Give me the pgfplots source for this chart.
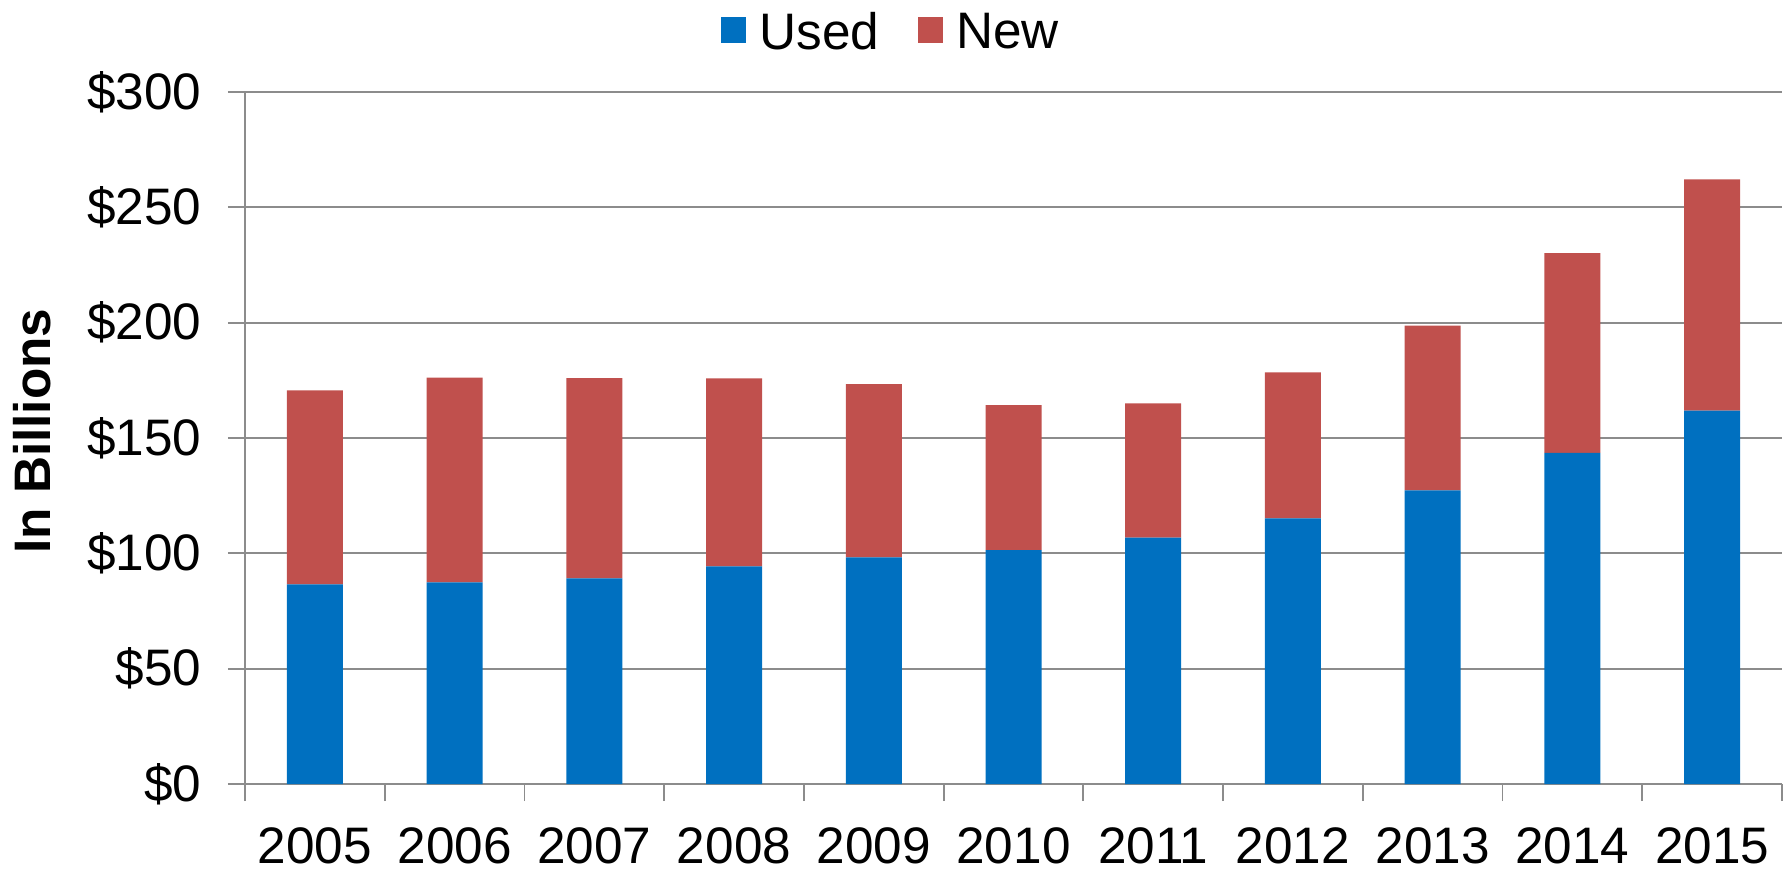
\documentclass[border=0pt]{standalone}
\usepackage{pgfplots}
\pgfplotsset{compat=1.18}
\usepackage{pgfplotstable}
\usepackage{fontspec}
\setmainfont{Liberation Sans}
\definecolor{usedblue}{HTML}{0070C0}
\definecolor{newred}{HTML}{C0504D}
\definecolor{gridgray}{HTML}{8C8C8C}
\newcommand{\chf}{\fontsize{14.6}{17}\selectfont}
\pgfplotstableread{
x year used new
0 2005 86.6 84.1
1 2006 87.4 88.8
2 2007 89.2 86.8
3 2008 94.4 81.5
4 2009 98.3 75.1
5 2010 101.4 62.9
6 2011 106.8 58.2
7 2012 115.2 63.3
8 2013 127.3 71.4
9 2014 143.6 86.5
10 2015 161.9 100.2
}\datatable
\begin{document}%
\begin{tikzpicture}
\begin{axis}[
  at={(0,0)}, anchor=south west,
  scale only axis,
  width=153.7mm, height=69.2mm,
  ybar stacked,
  bar width=5.6mm,
  xmin=-0.5, xmax=10.5,
  ymin=0, ymax=300,
  axis x line*=bottom, axis y line*=left,
  axis line style={gridgray, line width=0.5pt},
  xtick={-0.5,0.5,...,10.5},
  xticklabels={2005,2006,2007,2008,2009,2010,2011,2012,2013,2014,2015,{}},
  xticklabel style={font=\chf, anchor=north, inner sep=0pt, xshift=6.986mm, yshift=-2.6mm},
  ytick={0,50,...,300},
  yticklabels={\$0,\$50,\$100,\$150,\$200,\$250,\$300},
  yticklabel style={font=\chf, anchor=east, inner sep=0pt, xshift=-2.6mm},
  tick align=outside,
  major tick length=1.7mm,
  tick style={gridgray, line width=0.5pt},
  ymajorgrids,
  major grid style={gridgray, line width=0.6pt},
  ylabel={\textbf{In Billions}},
  ylabel style={font=\chf, at={(axis description cs:-0.1386,0.51)}, anchor=center},
  legend columns=2,
  legend style={draw=none, fill=none, font=\chf, at={(0.422,1.084)}, anchor=center,
    /tikz/every even column/.append style={column sep=3.2mm},
    inner sep=0pt},
  legend image code/.code={\fill[#1] (0mm,-0.9mm) rectangle (2.5mm,1.7mm); \path (3.1mm,0mm);},
]
\addplot[fill=usedblue, draw=none] table[x=x, y=used] {\datatable};
\addlegendentry{Used}
\addplot[fill=newred, draw=none] table[x=x, y=new] {\datatable};
\addlegendentry{New}
\end{axis}
\pgfresetboundingbox
\path[use as bounding box] (-24.5mm,-8.7mm) rectangle (154.4mm,78.4mm);
\end{tikzpicture}%
\end{document}
